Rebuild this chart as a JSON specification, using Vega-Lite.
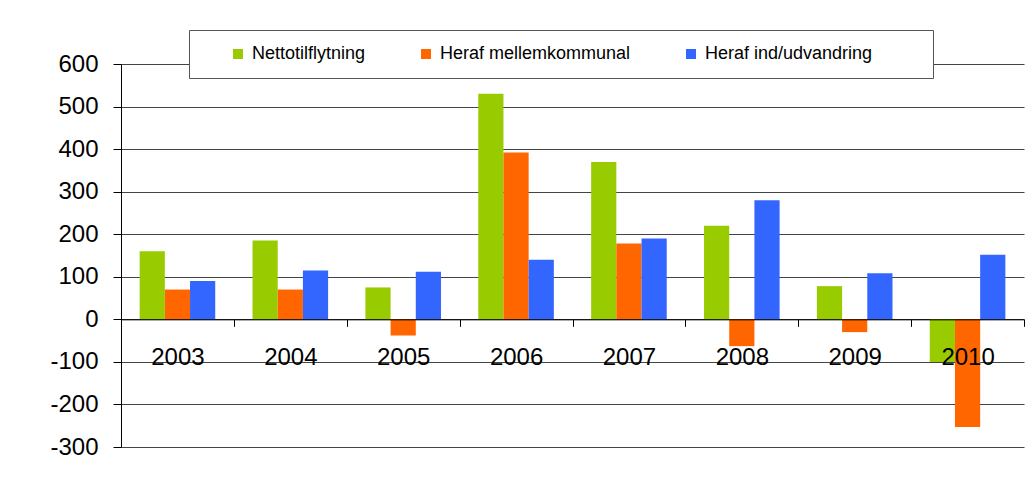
{
  "$schema": "https://vega.github.io/schema/vega-lite/v6.json",
  "width": 903,
  "height": 383,
  "autosize": {"type": "none"},
  "padding": {"left": 121, "top": 64, "right": 7, "bottom": 43},
  "background": "white",
  "config": {"font": "Liberation Sans", "view": {"stroke": null}},
  "data": {
    "values": [
      {"year": "2003", "serie": "Nettotilflytning", "value": 160},
      {"year": "2003", "serie": "Heraf mellemkommunal", "value": 70},
      {"year": "2003", "serie": "Heraf ind/udvandring", "value": 90},
      {"year": "2004", "serie": "Nettotilflytning", "value": 185},
      {"year": "2004", "serie": "Heraf mellemkommunal", "value": 70},
      {"year": "2004", "serie": "Heraf ind/udvandring", "value": 115},
      {"year": "2005", "serie": "Nettotilflytning", "value": 75},
      {"year": "2005", "serie": "Heraf mellemkommunal", "value": -38},
      {"year": "2005", "serie": "Heraf ind/udvandring", "value": 112},
      {"year": "2006", "serie": "Nettotilflytning", "value": 530},
      {"year": "2006", "serie": "Heraf mellemkommunal", "value": 392},
      {"year": "2006", "serie": "Heraf ind/udvandring", "value": 140},
      {"year": "2007", "serie": "Nettotilflytning", "value": 370},
      {"year": "2007", "serie": "Heraf mellemkommunal", "value": 178},
      {"year": "2007", "serie": "Heraf ind/udvandring", "value": 190},
      {"year": "2008", "serie": "Nettotilflytning", "value": 220},
      {"year": "2008", "serie": "Heraf mellemkommunal", "value": -63},
      {"year": "2008", "serie": "Heraf ind/udvandring", "value": 280},
      {"year": "2009", "serie": "Nettotilflytning", "value": 78},
      {"year": "2009", "serie": "Heraf mellemkommunal", "value": -30},
      {"year": "2009", "serie": "Heraf ind/udvandring", "value": 108},
      {"year": "2010", "serie": "Nettotilflytning", "value": -100},
      {"year": "2010", "serie": "Heraf mellemkommunal", "value": -253},
      {"year": "2010", "serie": "Heraf ind/udvandring", "value": 152}
    ]
  },
  "mark": {"type": "bar"},
  "encoding": {
    "x": {
      "field": "year",
      "type": "nominal",
      "scale": {"paddingInner": 0, "paddingOuter": 0},
      "axis": {
        "orient": "bottom",
        "offset": -127.67,
        "zindex": 1,
        "title": null,
        "labelAngle": 0,
        "labelFontSize": 24,
        "labelColor": "black",
        "labelBaseline": "middle",
        "labelPadding": 31,
        "tickBand": "extent",
        "tickSize": 7,
        "tickColor": "black",
        "domainColor": "black",
        "grid": false
      }
    },
    "xOffset": {
      "field": "serie",
      "type": "nominal",
      "sort": ["Nettotilflytning", "Heraf mellemkommunal", "Heraf ind/udvandring"],
      "scale": {"paddingInner": 0, "paddingOuter": 0.74}
    },
    "y": {
      "field": "value",
      "type": "quantitative",
      "scale": {"domain": [-300, 600], "nice": false, "zero": false},
      "axis": {
        "values": [-300, -200, -100, 0, 100, 200, 300, 400, 500, 600],
        "labelExpr": "replace(datum.label, '\u2212', '-')",
        "title": null,
        "labelFontSize": 24,
        "labelColor": "black",
        "labelPadding": 15,
        "tickSize": 8,
        "tickColor": "black",
        "domainColor": "black",
        "grid": true,
        "gridColor": "#444444",
        "gridOpacity": 1
      }
    },
    "color": {
      "field": "serie",
      "type": "nominal",
      "scale": {
        "domain": ["Nettotilflytning", "Heraf mellemkommunal", "Heraf ind/udvandring"],
        "range": ["#99CC00", "#FF6600", "#3366FF"]
      },
      "legend": {
        "orient": "none",
        "legendX": 68,
        "legendY": -34,
        "direction": "horizontal",
        "columns": 3,
        "title": "\u2003\u2003\u2003",
        "titleOrient": "right",
        "titleFontSize": 18,
        "titlePadding": 46,
        "symbolType": "square",
        "symbolSize": 100,
        "symbolStrokeWidth": 0,
        "symbolOpacity": 1,
        "labelFontSize": 18,
        "labelColor": "black",
        "labelOffset": 5,
        "labelLimit": 400,
        "symbolOffset": 25,
        "columnPadding": 26,
        "padding": 15,
        "strokeColor": "#555555",
        "fillColor": "white"
      }
    }
  }
}
